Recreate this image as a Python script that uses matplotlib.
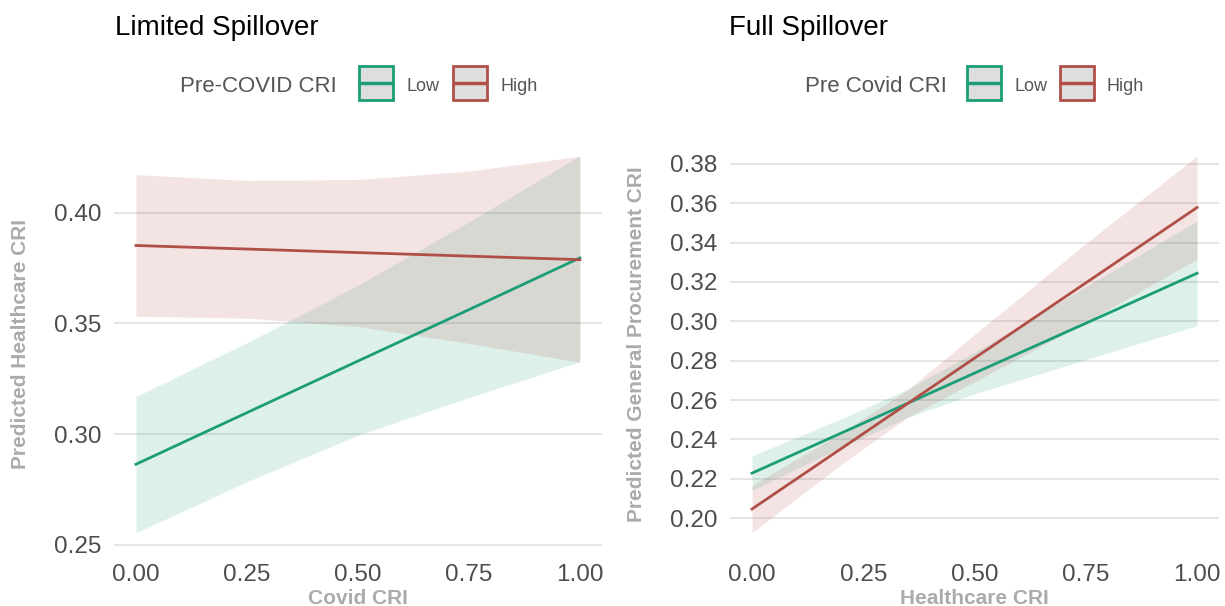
import matplotlib
matplotlib.use("Agg")
import matplotlib.pyplot as plt
from matplotlib.patches import Rectangle
from matplotlib.lines import Line2D

plt.rcParams['font.family'] = ['Liberation Sans', 'DejaVu Sans']

# ---- data ----
# Limited Spillover: predicted healthcare CRI vs covid CRI
lim_x = [0.0, 0.25, 0.5, 0.75, 1.0]
lim_low_fit = [0.2864, 0.3097, 0.3330, 0.3562, 0.3796]
lim_low_upper = [0.3170, 0.3413, 0.3672, 0.3958, 0.4257]
lim_low_lower = [0.2555, 0.2785, 0.2995, 0.3165, 0.3327]
lim_high_fit = [0.3852, 0.3836, 0.3820, 0.3804, 0.3788]
lim_high_upper = [0.4172, 0.4146, 0.4150, 0.4188, 0.4255]
lim_high_lower = [0.3532, 0.3524, 0.3486, 0.3410, 0.3325]

# Full Spillover: predicted general procurement CRI vs healthcare CRI
full_x = [0.0, 0.2, 0.35, 0.5, 0.75, 1.0]
full_low_fit = [0.2229, 0.2432, 0.2584, 0.2737, 0.2990, 0.3244]
full_low_upper = [0.2317, 0.2504, 0.2656, 0.2842, 0.3175, 0.3510]
full_low_lower = [0.2141, 0.2360, 0.2512, 0.2632, 0.2805, 0.2978]
full_high_fit = [0.2047, 0.2353, 0.2583, 0.2813, 0.3195, 0.3578]
full_high_upper = [0.2167, 0.2433, 0.2653, 0.2933, 0.3395, 0.3840]
full_high_lower = [0.1927, 0.2273, 0.2513, 0.2693, 0.2995, 0.3316]

x_ticks = [0.0, 0.25, 0.5, 0.75, 1.0]
lim_y_ticks = [0.25, 0.30, 0.35, 0.40]
full_y_ticks = [0.20, 0.22, 0.24, 0.26, 0.28, 0.30, 0.32, 0.34, 0.36, 0.38]
group_labels = ["Low", "High"]

GREEN = "#1b9e77"
RED = "#b04f47"
TICK_COL = "#4d4d4d"
LAB_COL = "#ababab"
W, H = 1225, 606

fig = plt.figure(figsize=(12.25, 6.06), dpi=100)


def fx(px):
    return px / W


def fy(py):
    return 1 - py / H


def panel(left_px, right_px, x, low, high, yticks, ylim, xlabel, ylabel):
    ax = fig.add_axes([fx(left_px), fy(551.5), (right_px - left_px) / W, (551.5 - 137) / H])
    ax.fill_between(x, low[1], low[2], color=GREEN, alpha=0.15, lw=0)
    ax.fill_between(x, high[1], high[2], color=RED, alpha=0.15, lw=0)
    ax.plot(x, low[0], color=GREEN, lw=2.0)
    ax.plot(x, high[0], color=RED, lw=2.0)
    ax.set_xlim(-0.05, 1.05)
    ax.set_ylim(*ylim)
    ax.set_xticks(x_ticks)
    ax.set_xticklabels([f"{t:.2f}" for t in x_ticks])
    ax.set_yticks(yticks)
    ax.set_yticklabels([f"{t:.2f}" for t in yticks])
    ax.tick_params(length=0, labelsize=17.5, labelcolor=TICK_COL)
    ax.tick_params(axis='x', pad=9)
    ax.tick_params(axis='y', pad=9)
    ax.grid(axis='y', color="#e3e3e3", lw=1.3)
    ax.grid(axis='x', visible=False)
    ax.set_axisbelow(True)
    for s in ax.spines.values():
        s.set_visible(False)
    ax.set_xlabel(xlabel, fontsize=15, fontweight='bold', color=LAB_COL, labelpad=2)
    ax.set_ylabel(ylabel, fontsize=15, fontweight='bold', color=LAB_COL)
    ax.yaxis.set_label_coords(-0.172, 0.5)
    return ax


panel(113.8, 602, lim_x,
      (lim_low_fit, lim_low_lower, lim_low_upper),
      (lim_high_fit, lim_high_lower, lim_high_upper),
      lim_y_ticks, (0.247, 0.4342), "Covid CRI", "Predicted Healthcare CRI")
panel(729.8, 1219.3, full_x,
      (full_low_fit, full_low_lower, full_low_upper),
      (full_high_fit, full_high_lower, full_high_upper),
      full_y_ticks, (0.1831, 0.3936), "Healthcare CRI", "Predicted General Procurement CRI")


def legend(title_px, title, box1_px, lab1_px, box2_px, lab2_px):
    fig.text(fx(title_px), fy(92), title, fontsize=16, color="#555555", va='baseline')
    for bx, lx, col, lab in [(box1_px, lab1_px, GREEN, group_labels[0]),
                             (box2_px, lab2_px, RED, group_labels[1])]:
        fig.patches.append(Rectangle((fx(bx), fy(100)), 34 / W, 34 / H, transform=fig.transFigure,
                                     facecolor="#dedede", edgecolor=col, lw=2.0))
        fig.lines.append(Line2D([fx(bx + 1), fx(bx + 33)], [fy(83), fy(83)],
                                transform=fig.transFigure, color=col, lw=2.5))
        fig.text(fx(lx), fy(91), lab, fontsize=13, color="#555555", va='baseline')


fig.text(fx(115), fy(35), "Limited Spillover", fontsize=20, color="black", va='baseline')
fig.text(fx(729), fy(35), "Full Spillover", fontsize=20, color="black", va='baseline')
legend(180, "Pre-COVID CRI", 359, 407, 453, 501)
legend(805, "Pre Covid CRI", 967, 1014, 1060, 1107)

fig.savefig("out.png", dpi=100, facecolor="white")
